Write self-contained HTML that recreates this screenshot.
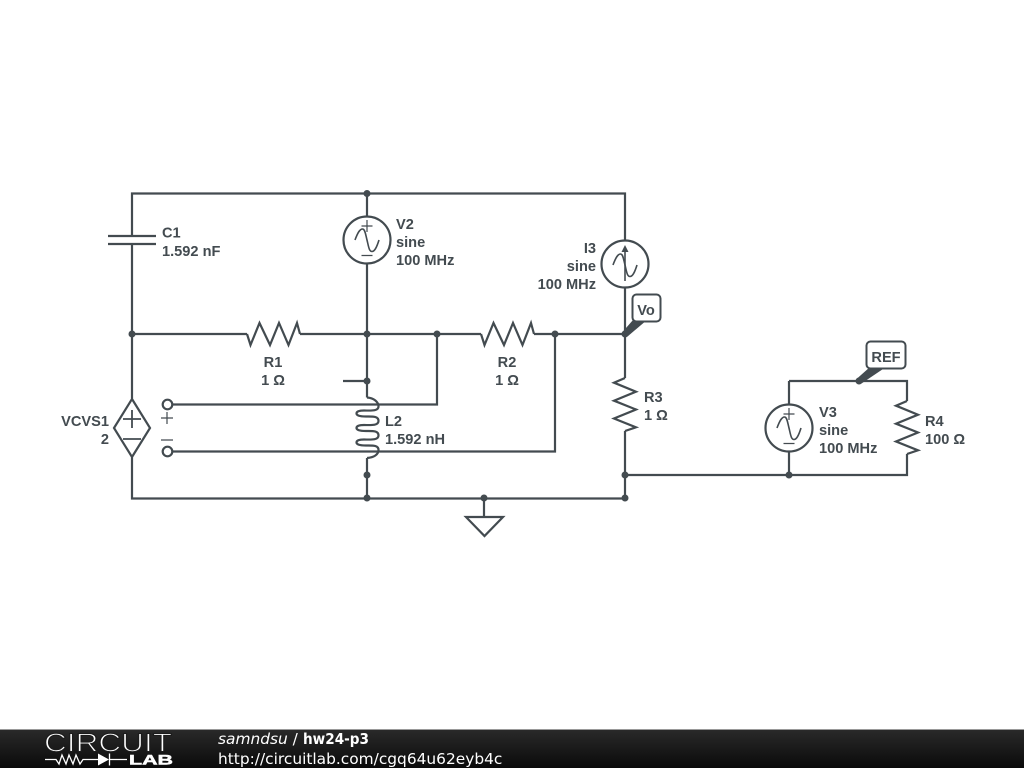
<!DOCTYPE html>
<html><head><meta charset="utf-8"><style>
html,body{margin:0;padding:0;background:#fff}
svg{display:block}
.l{font:bold 14.6px "Liberation Sans",sans-serif;fill:#434b50}
.f{font:15.4px "DejaVu Sans",sans-serif;fill:#fff}
</style></head><body>
<svg width="1024" height="768" viewBox="0 0 1024 768" xmlns="http://www.w3.org/2000/svg">
<defs><linearGradient id="b" x1="0" y1="0" x2="0" y2="1"><stop offset="0" stop-color="#2a2a2a"/><stop offset="1" stop-color="#0a0a0a"/></linearGradient></defs>
<rect width="1024" height="768" fill="#fff"/>
<g fill="none" stroke="#434b50" stroke-width="2.200">
<path d="M132 236V193.500H625V240.500M625 287.500V378M625 431V498M132 244V398.500M132 457.500V498.500H625M367 193.500V216.500M367 263.500V397.500M367 458V498M132 334H247M300 334H481M534 334H625M343 381H367"/>
<path d="M173 404.500H437V334M173 451.500H555V334M625 475H789M789 381V404.500M789 451.500V475H907V454M907 401V381H789"/>
<path d="M108 236H156M108 244H156"/>
<path d="M247 334L250.500 345L259.500 323L270 345L279 323L288.500 345L297 323L300 334"/>
<path d="M481 334L484.500 345L493.500 323L504 345L513 323L522.500 345L531 323L534 334"/>
<path d="M625 378L614 382.700L636 391.700L614 400.700L636 409.500L614 418.500L636 427.300L625 431"/>
<path d="M907 401L896 405.700L918 414.700L896 423.700L918 432.500L896 441.500L918 450.300L907 454"/>
<circle cx="367" cy="240" r="23.500"/><circle cx="625" cy="264" r="23.500"/><circle cx="789" cy="428" r="23.500"/>
<path d="M114 428L132 399L150 428L132 457Z"/>
<path d="M123 419H141M132 410V428M123 439H141" stroke-width="1.800"/>
<circle cx="167.500" cy="404.500" r="4.800"/><circle cx="167.500" cy="451.500" r="4.800"/>
<path d="M367 397.500C374 398 378.500 402 378.500 406.500C378.500 411.500 370 410.500 364 410.500C358 410.500 356.500 412 356.500 413.500C356.500 415.500 360 416.500 366 416.500C373 416.500 378.500 416 378.500 421C378.500 426 370 425 364 425C358 425 356.500 426.500 356.500 428C356.500 430 360 431 366 431C373 431 378.500 430.500 378.500 435.500C378.500 440.500 370 439.500 364 439.500C358 439.500 356.500 441 356.500 442.500C356.500 444.500 360 445.500 366 445.500C373 445.500 378.500 445 378.500 450C378.500 454.500 374 457.500 367 458"/>
<path d="M484 498V517M466 517H503L484.500 536Z"/>
</g>
<g fill="none" stroke="#434b50" stroke-width="1.600">
<path d="M355 240C358 232 360 229 362.500 229C365 229 365.500 234 367 240C368.500 246 369 251.500 372 251.500C374.500 251.500 376.500 248 379 240"/>
<path d="M613 265C616 257 618 254 620.500 254C623 254 623.500 259 625 265C626.500 271 627 276.500 630 276.500C632.500 276.500 634.500 273 637 265"/>
<path d="M777 428C780 420 782 417 784.500 417C787 417 787.500 422 789 428C790.500 434 791 439.500 794 439.500C796.500 439.500 798.500 436 801 428"/>
<path d="M625 281V252"/>
</g>
<path d="M625 245L621.500 252H628.500Z" fill="#434b50"/>
<g fill="none" stroke="#434b50" stroke-width="1.200">
<path d="M161 418H173M167 412V424M161 440H173"/>
<path d="M361.500 226H372.500M367 220V232M361.500 255.500H372.500"/>
<path d="M783.500 414H794.500M789 408V420M783.500 443.500H794.500"/>
</g>
<g fill="#434b50">
<circle cx="367" cy="193.500" r="3.500"/><circle cx="132" cy="334" r="3.500"/><circle cx="367" cy="334" r="3.500"/><circle cx="437" cy="334" r="3.500"/><circle cx="555" cy="334" r="3.500"/><circle cx="625" cy="334" r="3.500"/><circle cx="367" cy="381" r="3.500"/><circle cx="367" cy="475" r="3.500"/><circle cx="367" cy="498" r="3.500"/><circle cx="484" cy="498" r="3.500"/><circle cx="625" cy="498" r="3.500"/><circle cx="625" cy="475" r="3.500"/><circle cx="789" cy="475" r="3.500"/><circle cx="859" cy="381" r="3.500"/>
<path d="M622.500 332L633 320H647L627.500 336.500Z"/><path d="M856.500 379L870 367H886L861.500 383.500Z"/>
</g>
<rect x="632.500" y="294.500" width="28" height="27" rx="4" fill="#fff" stroke="#434b50" stroke-width="2"/>
<rect x="866.500" y="341.500" width="39" height="27" rx="4" fill="#fff" stroke="#434b50" stroke-width="2"/>
<g class="l">
<text x="162" y="237.500">C1</text><text x="162" y="256">1.592 nF</text>
<text x="396" y="229">V2</text><text x="396" y="247">sine</text><text x="396" y="265">100 MHz</text>
<text x="596" y="253" text-anchor="end">I3</text><text x="596" y="271" text-anchor="end">sine</text><text x="596" y="289" text-anchor="end">100 MHz</text>
<text x="273" y="367" text-anchor="middle">R1</text><text x="273" y="385" text-anchor="middle">1 Ω</text>
<text x="507" y="367" text-anchor="middle">R2</text><text x="507" y="385" text-anchor="middle">1 Ω</text>
<text x="644" y="402">R3</text><text x="644" y="420">1 Ω</text>
<text x="109" y="426" text-anchor="end">VCVS1</text><text x="109" y="444" text-anchor="end">2</text>
<text x="385" y="426">L2</text><text x="385" y="444">1.592 nH</text>
<text x="819" y="417">V3</text><text x="819" y="435">sine</text><text x="819" y="453">100 MHz</text>
<text x="925" y="426">R4</text><text x="925" y="444">100 Ω</text>
<text x="646" y="315" text-anchor="middle">Vo</text><text x="886" y="362" text-anchor="middle">REF</text>
</g>
<rect x="0" y="729" width="1024" height="39" fill="url(#b)"/>
<rect x="0" y="729" width="1024" height="1" fill="#999"/>
<text x="44" y="751.500" font-family="Liberation Sans,sans-serif" font-size="26" textLength="128" lengthAdjust="spacingAndGlyphs" fill="#fff" stroke="#1c1c1c" stroke-width="1.100">CIRCUIT</text>
<text x="129" y="764.500" font-family="Liberation Sans,sans-serif" font-weight="bold" font-size="14" textLength="44" lengthAdjust="spacingAndGlyphs" fill="#fff" stroke="#fff" stroke-width="0.500">LAB</text>
<path d="M45 759.500H56L59 764L62 755L66 764L69 755L73 764L76 755L80 764L83 759.500H98M109.500 759.500H127M109.500 753.500V765.500" fill="none" stroke="#fff" stroke-width="1.300"/>
<path d="M98 753.500L109 759.500L98 765.500Z" fill="#fff"/>
<text class="f" x="218" y="744"><tspan style="font-style:italic">samndsu</tspan> /</text>
<text class="f" x="303" y="744" style="font-weight:bold" textLength="66" lengthAdjust="spacingAndGlyphs">hw24-p3</text>
<text class="f" x="218" y="764">http://circuitlab.com/cgq64u62eyb4c</text>
</svg>
</body></html>
